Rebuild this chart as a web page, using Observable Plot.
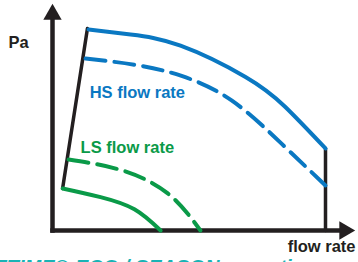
<!DOCTYPE html>
<html>
<head>
<meta charset="utf-8">
<script src="https://cdn.jsdelivr.net/npm/d3@7"></script>
<script src="https://cdn.jsdelivr.net/npm/@observablehq/plot@0.6"></script>
<style>
  html, body { margin: 0; padding: 0; background: #fff; overflow: hidden; }
  #chart { width: 358px; height: 262px; overflow: hidden; }
  #chart svg { overflow: hidden; font-family: "Liberation Sans", Arial, sans-serif; }
</style>
</head>
<body>
<div id="chart"></div>
<script>
// Flow (x) and pressure (y) in relative units 0..100
const hsSolidX = [13.2, 28.6, 46.9, 70.7, 85.0, 100];
const hsSolidY = [99.5, 97.0, 91.5, 76.0, 61.5, 40.6];
const hsDashX = [12.1, 30.4, 47.3, 65.6, 83.9, 100];
const hsDashY = [85.1, 82.0, 76.5, 64.4, 43.0, 22.3];
const lsSolidX = [3.7, 17.6, 30.0, 39.6];
const lsSolidY = [20.8, 16.5, 10.5, 0];
const lsDashX = [5.9, 24.9, 42.1, 54.2];
const lsDashY = [35.1, 30.0, 18.5, 0];
const envLeftX = [3.7, 12.8];
const envLeftY = [20.8, 100];
const envRightX = [100, 100];
const envRightY = [40.6, 0];
const axisMax = 107;
const labels = ["Pa", "HS flow rate", "LS flow rate", "flow rate"];
const caption = "LIFETIME® ECO / SEASON operation";

const pts = (xs, ys) => xs.map((x, i) => ({x, y: ys[i]}));

const blue = "#0a78c2", green = "#0a9a48", black = "#231f20";

const chart = Plot.plot({
  width: 358,
  height: 262,
  margin: 0,
  x: {domain: [0, 100], range: [52, 325], axis: null},
  y: {domain: [0, 100], range: [230, 28], axis: null},
  marks: [
    // axes
    Plot.line([{x: 0, y: 0}, {x: 0, y: axisMax - 2}], {x: "x", y: "y", stroke: black, strokeWidth: 4.5, strokeLinecap: "square"}),
    Plot.line([{x: 0, y: 0}, {x: axisMax - 2, y: 0}], {x: "x", y: "y", stroke: black, strokeWidth: 4.5, strokeLinecap: "square"}),
    Plot.dot([{x: 0, y: axisMax}], {x: "x", y: "y", symbol: "triangle", r: 6.8, fill: black, stroke: "none"}),
    Plot.dot([{x: axisMax, y: 0}], {x: "x", y: "y", symbol: "triangle", r: 6.8, fill: black, stroke: "none", rotate: 90}),
    // envelope
    Plot.line(pts(envLeftX, envLeftY), {x: "x", y: "y", stroke: black, strokeWidth: 3.5}),
    Plot.line(pts(envRightX, envRightY), {x: "x", y: "y", stroke: black, strokeWidth: 3.5}),
    // curves
    Plot.line(pts(hsSolidX, hsSolidY), {x: "x", y: "y", stroke: blue, strokeWidth: 4, curve: "natural"}),
    Plot.line(pts(hsDashX, hsDashY), {x: "x", y: "y", stroke: blue, strokeWidth: 4, strokeDasharray: "20,9", curve: "natural"}),
    Plot.line(pts(lsSolidX, lsSolidY), {x: "x", y: "y", stroke: green, strokeWidth: 4, curve: "natural"}),
    Plot.line(pts(lsDashX, lsDashY), {x: "x", y: "y", stroke: green, strokeWidth: 4, strokeDasharray: "20,9", curve: "natural"}),
    // labels
    Plot.text([labels[0]], {x: -16.1, y: 92.8, text: d => d, textAnchor: "start", fontSize: 16.5, fontWeight: "bold", fill: black}),
    Plot.text([labels[1]], {x: 13.6, y: 68.3, text: d => d, textAnchor: "start", fontSize: 16.5, fontWeight: "bold", fill: blue}),
    Plot.text([labels[2]], {x: 10.3, y: 41.1, text: d => d, textAnchor: "start", fontSize: 16.5, fontWeight: "bold", fill: green}),
    Plot.text([labels[3]], {x: 111, y: -7.9, text: d => d, textAnchor: "end", fontSize: 16.5, fontWeight: "bold", fill: black}),
    Plot.text([caption], {frameAnchor: "bottom-left", dx: -37, dy: -3, lineAnchor: "top", text: d => d, textAnchor: "start", fontSize: 20, fontWeight: "bold", fontStyle: "italic", fill: "#19b3b5"})
  ]
});
document.getElementById("chart").append(chart);
</script>
</body>
</html>
